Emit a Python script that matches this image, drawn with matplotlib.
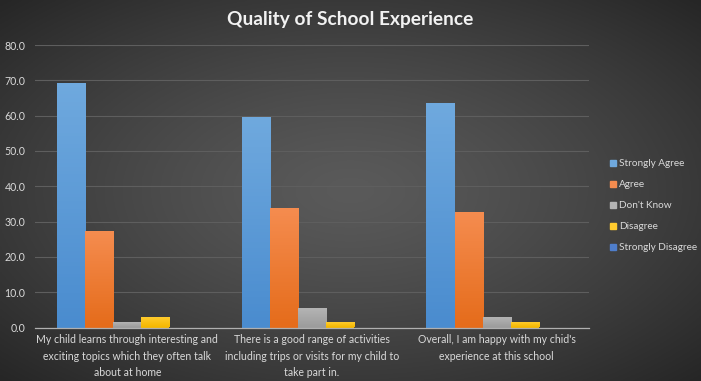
import numpy as np
import matplotlib.pyplot as plt
from matplotlib.colors import LinearSegmentedColormap, to_rgb

categories = [
    "My child learns through interesting and\nexciting topics which they often talk\nabout at home",
    "There is a good range of activities\nincluding trips or visits for my child to\ntake part in.",
    "Overall, I am happy with my chid's\nexperience at this school",
]
series = ["Strongly Agree", "Agree", "Don't Know", "Disagree", "Strongly Disagree"]
strongly_agree = [68.9, 59.3, 63.3]
agree = [27.0, 33.6, 32.4]
dont_know = [1.3, 5.1, 2.6]
disagree = [2.6, 1.3, 1.3]
strongly_disagree = [0.0, 0.0, 0.0]
values = [strongly_agree, agree, dont_know, disagree, strongly_disagree]

# (top colour, bottom colour) for a light vertical gradient like Excel
colors = [("#6fa9de", "#4a8ccf"), ("#f58c4f", "#e56c1b"), ("#b4b4b4", "#9c9c9c"),
          ("#ffcb2e", "#f5b800"), ("#4f7ecb", "#3f68b5")]
text_col = "#d9d9d9"

plt.rcParams["font.family"] = ["Lato", "DejaVu Sans"]

fig = plt.figure(figsize=(7.01, 3.81), dpi=100)

# radial dark background
bg = fig.add_axes([0, 0, 1, 1], zorder=-10)
yy, xx = np.mgrid[0:1:200j, 0:1:360j]
r = np.sqrt(((xx - 0.5) / 0.5) ** 2 + ((yy - 0.5) / 0.5) ** 2) / np.sqrt(2)
c_in, c_out = np.array(to_rgb("#5a5a5a")), np.array(to_rgb("#262626"))
img = c_in + (c_out - c_in) * np.clip(r, 0, 1)[..., None] ** 1.3
bg.imshow(img, extent=(0, 1, 0, 1), aspect="auto")
bg.axis("off")

ax = fig.add_axes([35 / 701, 53.5 / 381, 554 / 701, 282.5 / 381])
ax.patch.set_alpha(0)

x = np.arange(len(categories))
n = len(series)
width = 0.152
for i, (name, vals) in enumerate(zip(series, values)):
    pos = x + (i - (n - 1) / 2) * width
    bars = ax.bar(pos, vals, width, color=colors[i][1], label=name, zorder=2)
    cmap = LinearSegmentedColormap.from_list(name, [colors[i][1], colors[i][0]])
    for b in bars:
        if b.get_height() > 0:
            ax.imshow(np.linspace(0, 1, 64).reshape(-1, 1)[::-1], cmap=cmap,
                      extent=(b.get_x(), b.get_x() + b.get_width(), 0, b.get_height()),
                      aspect="auto", zorder=3)

ax.set_xlim(-0.5, len(categories) - 0.5)
ax.set_ylim(0, 80)
ax.set_yticks(np.arange(0, 81, 10))
ax.set_yticklabels([f"{v:.1f}" for v in np.arange(0, 81, 10)])
ax.set_xticks(x)
ax.set_xticklabels(categories, fontsize=7.6, color=text_col, linespacing=1.6)
ax.tick_params(axis="y", labelsize=7.6, colors=text_col, length=0, pad=7)
ax.tick_params(axis="x", length=0, pad=5)
ax.grid(axis="y", color="#5e5e5e", linewidth=0.8, zorder=0)
for s in ["top", "right", "left"]:
    ax.spines[s].set_visible(False)
ax.spines["bottom"].set_color("#b0b0b0")
ax.spines["bottom"].set_linewidth(0.9)
ax.spines["bottom"].set_zorder(4)

fig.text(0.5, 0.948, "Quality of School Experience", ha="center", va="center",
         fontsize=13.8, fontweight="bold", color="#f2f2f2")

leg_handles = [plt.Rectangle((0, 0), 1, 1, color=c[0]) for c in colors]
leg = fig.legend(leg_handles, series, loc="center left", bbox_to_anchor=(0.857, 0.46),
                 frameon=False, fontsize=7.2, handlelength=0.6, handleheight=0.6,
                 handletextpad=0.3, labelspacing=1.2)
for t in leg.get_texts():
    t.set_color(text_col)

fig.savefig("out.png", dpi=100)
